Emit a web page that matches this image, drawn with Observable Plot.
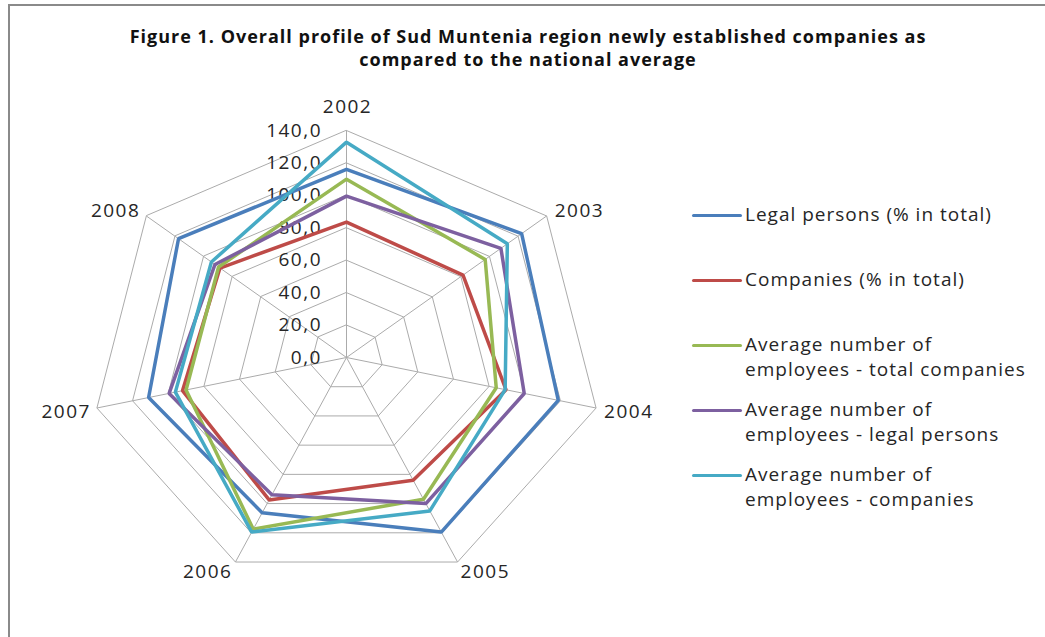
<!DOCTYPE html>
<html>
<head>
<meta charset="utf-8">
<script src="https://cdn.jsdelivr.net/npm/d3@7"></script>
<script src="https://cdn.jsdelivr.net/npm/@observablehq/plot@0.6"></script>
<style>
  html, body { margin: 0; padding: 0; background: #fff; }
  #wrap { position: relative; width: 1045px; height: 637px; overflow: hidden; background: #fff; font-family: "Open Sans", sans-serif; color: #262626; }
  #borderTop { position: absolute; left: 8px; top: 4px; width: 1037px; height: 2px; background: #8a8a8a; }
  #borderLeft { position: absolute; left: 8px; top: 4px; width: 2px; height: 633px; background: #8a8a8a; }
  #title { position: absolute; left: 0; top: 25px; width: 1056px; text-align: center; font-weight: 700; font-size: 18px; letter-spacing: 1px; line-height: 23px; color: #111; }
  #chart { position: absolute; left: 0; top: 80px; }
  #legend { position: absolute; left: 692px; top: 0; }
  .item { position: absolute; left: 0; width: 350px; }
  .item .sw { position: absolute; left: 0; width: 50px; height: 3px; border-radius: 2px; }
  .item .tx { position: absolute; left: 53px; font-size: 19px; letter-spacing: 1px; line-height: 25px; white-space: nowrap; color: #262626; }
</style>
</head>
<body>
<div id="wrap">
  <div id="borderTop"></div>
  <div id="borderLeft"></div>
  <div id="title">Figure 1. Overall profile of Sud Muntenia region newly established companies as<br>compared to the national average</div>
  <div id="chart"></div>
  <div id="legend"></div>
</div>
<script>
// ---- data ----
const years = ["2002", "2003", "2004", "2005", "2006", "2007", "2008"];
const seriesNames = [
  "Legal persons (% in total)",
  "Companies (% in total)",
  "Average number of employees - total companies",
  "Average number of employees - legal persons",
  "Average number of employees - companies"
];
const legendLabels = [
  ["Legal persons (% in total)"],
  ["Companies (% in total)"],
  ["Average number of", "employees - total companies"],
  ["Average number of", "employees - legal persons"],
  ["Average number of", "employees - companies"]
];
const legalPersons      = [116.0, 122.5, 118.8, 119.5, 106.3, 111.0, 117.5];
const companies         = [83.5, 81.5, 89.5, 84.0, 97.5, 92.0, 88.5];
const avgEmpTotal       = [110.0, 97.0, 84.0, 97.0, 117.5, 90.0, 89.5];
const avgEmpLegal       = [99.5, 108.0, 99.7, 100.0, 94.0, 99.5, 92.0];
const avgEmpCompanies   = [132.8, 112.5, 89.0, 105.0, 119.5, 96.0, 94.5];
const tickValues = [0, 20, 40, 60, 80, 100, 120, 140];
const tickLabels = ["0,0", "20,0", "40,0", "60,0", "80,0", "100,0", "120,0", "140,0"];
const colors = ["#4A7EBB", "#BE4B48", "#98B954", "#7D60A0", "#46AAC5"];

// ---- derived tables ----
const seriesValues = [legalPersons, companies, avgEmpTotal, avgEmpLegal, avgEmpCompanies];
const n = years.length;
const ang = i => i * 2 * Math.PI / n;
const rows = [];
seriesValues.forEach((vals, s) => {
  vals.forEach((v, i) => rows.push({series: seriesNames[s], year: years[i], value: v,
    x: v * Math.sin(ang(i)), y: v * Math.cos(ang(i))}));
});
const gridRows = [];
tickValues.forEach(t => years.forEach((yr, i) =>
  gridRows.push({tick: t, x: t * Math.sin(ang(i)), y: t * Math.cos(ang(i))})));
const maxV = tickValues[tickValues.length - 1];
const spokes = years.map((yr, i) => ({year: yr, i, x: maxV * Math.sin(ang(i)), y: maxV * Math.cos(ang(i))}));
const tickRows = tickValues.map((t, k) => ({t, label: tickLabels[k]}));

const labelFont = {fontSize: 19, fill: "#262626", fontFamily: "Open Sans"};
const yearMark = (idx, opts) => Plot.text(spokes.filter(d => idx.includes(d.i)),
  {x: "x", y: "y", text: "year", ...labelFont, ...opts});

const chart = Plot.plot({
  width: 680,
  height: 557,
  style: {background: "transparent", overflow: "visible", letterSpacing: "1.5px"},
  x: {domain: [-140, 140], range: [90, 602], axis: null},
  y: {domain: [-140, 140], range: [504, 50], axis: null},
  color: {domain: seriesNames, range: colors},
  marks: [
    Plot.line(gridRows.filter(d => d.tick > 0), {x: "x", y: "y", z: "tick", curve: "linear-closed", stroke: "#ababab", strokeWidth: 1}),
    Plot.link(spokes, {x1: 0, y1: 0, x2: "x", y2: "y", stroke: "#ababab", strokeWidth: 1}),
    Plot.text(tickRows, {x: 0, y: "t", text: "label", textAnchor: "end", dx: -24.5, ...labelFont}),
    Plot.line(rows, {x: "x", y: "y", z: "series", stroke: "series", curve: "linear-closed", strokeWidth: 3.5, strokeLinejoin: "miter"}),
    yearMark([0], {dy: -24, dx: 1}),
    yearMark([1], {textAnchor: "start", dx: 8, dy: -5}),
    yearMark([2], {textAnchor: "start", dx: 8, dy: 4}),
    yearMark([3], {textAnchor: "start", dx: 3, dy: 10}),
    yearMark([4], {textAnchor: "end", dx: -3, dy: 10}),
    yearMark([5], {textAnchor: "end", dx: -6, dy: 4}),
    yearMark([6], {textAnchor: "end", dx: -6, dy: -5})
  ]
});
document.getElementById("chart").appendChild(chart);

// ---- legend ----
const legendY = [215, 280, 345, 410, 475];
const legend = document.getElementById("legend");
seriesNames.forEach((name, s) => {
  const item = document.createElement("div");
  item.className = "item";
  item.style.top = legendY[s] + "px";
  const sw = document.createElement("div");
  sw.className = "sw";
  sw.style.background = colors[s];
  sw.style.top = "-1.5px";
  const tx = document.createElement("div");
  tx.className = "tx";
  tx.style.top = "-13px";
  tx.innerHTML = legendLabels[s].join("<br>");
  item.appendChild(sw);
  item.appendChild(tx);
  legend.appendChild(item);
});
</script>
</body>
</html>
